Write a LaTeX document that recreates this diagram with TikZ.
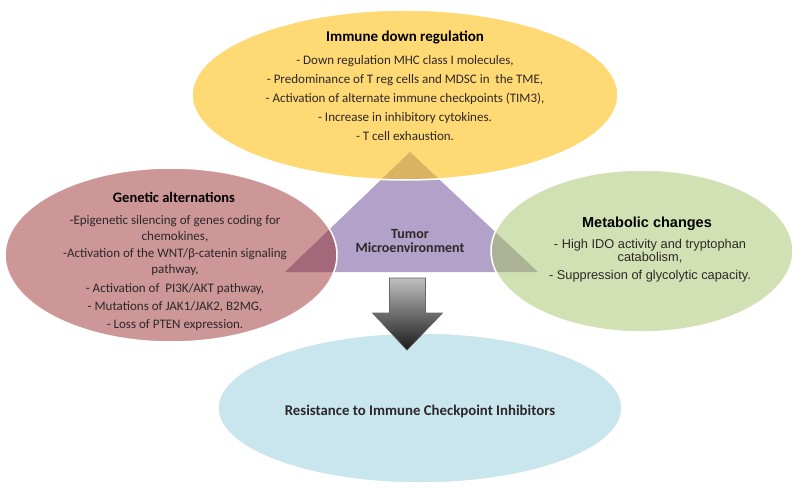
\documentclass[tikz,border=0pt]{standalone}
\usepackage{fontspec}
\setmainfont{Carlito}
\newfontfamily\arialfont{Liberation Sans}
\usepackage{xcolor}
\usepackage{tikz}
\usetikzlibrary{shapes.geometric,positioning,calc}

\definecolor{immfill}{RGB}{254,217,116}
\definecolor{genfill}{RGB}{205,151,152}
\definecolor{metfill}{RGB}{210,225,180}
\definecolor{resfill}{RGB}{201,229,237}
\definecolor{tmefill}{RGB}{178,161,200}
\definecolor{immdark}{RGB}{218,178,98}
\definecolor{gendark}{RGB}{163,104,121}
\definecolor{metdark}{RGB}{172,178,150}
\definecolor{inktext}{RGB}{45,40,40}

\begin{document}
\begin{tikzpicture}[
    x=1pt, y=-1pt,
    blob/.style={ellipse, draw=white, line width=1.5pt, inner sep=0pt},
    head/.style={align=center, text=black, font=\fontsize{15}{17}\selectfont\bfseries},
    body/.style={align=center, text=inktext, font=\fontsize{13}{19}\selectfont},
    bigarrow/.style={top color=black!25, bottom color=black!90, draw=black!60, line width=0.6pt}
]
    \useasboundingbox (0,0) rectangle (794,489);

    % Central triangle
    \coordinate (apex) at (410,152);
    \coordinate (baseL) at (285,272);
    \coordinate (baseR) at (538,272);
    \fill[tmefill] (apex) -- (baseR) -- (baseL) -- cycle;

    % Ellipses
    \node[blob, fill=immfill, minimum width=426pt, minimum height=170pt] (imm) at (405,95) {};
    \node[blob, fill=genfill, minimum width=332pt, minimum height=174pt] (gen) at (171,255) {};
    \node[blob, fill=metfill, minimum width=302pt, minimum height=162pt] (met) at (642,251) {};
    \node[blob, fill=resfill, minimum width=404pt, minimum height=150pt] (res) at (420,408) {};

    % Overlaps with the triangle
    \begin{scope}
        \clip (imm.center) ellipse [x radius=212, y radius=84];
        \fill[immdark] (apex) -- (baseR) -- (baseL) -- cycle;
    \end{scope}
    \begin{scope}
        \clip (gen.center) ellipse [x radius=165, y radius=86];
        \fill[gendark] (apex) -- (baseR) -- (baseL) -- cycle;
    \end{scope}
    \begin{scope}
        \clip (met.center) ellipse [x radius=150, y radius=80];
        \fill[metdark] (apex) -- (baseR) -- (baseL) -- cycle;
    \end{scope}

    % Immune down regulation
    \node[head] (immhead) at (405,37) {Immune down regulation};
    \node[body] (immtxt) at (405,98) {- Down regulation MHC class I molecules,\\
        - Predominance of T reg cells and MDSC in~ the TME,\\
        - Activation of alternate immune checkpoints (TIM3),\\
        - Increase in inhibitory cytokines.\\
        - T cell exhaustion.};

    % Genetic alternations
    \node[head, font=\fontsize{14.5}{17}\selectfont\bfseries] (genhead) at (174,197) {Genetic alternations};
    \node[body, font=\fontsize{13}{16}\selectfont] (gentxt) at (175,273) {-Epigenetic silencing of genes coding for\\ chemokines,\\[1pt]
        -Activation of the WNT/β-catenin signaling\\ pathway,\\[3pt]
        - Activation of~ PI3K/AKT pathway,\\[2pt]
        - Mutations of JAK1/JAK2, B2MG,\\[2pt]
        - Loss of PTEN expression.};

    % Metabolic changes
    \node[head, font=\arialfont\fontsize{14.5}{17}\selectfont\bfseries] (methead) at (647,224) {Metabolic changes};
    \node[body, font=\arialfont\fontsize{12.8}{13}\selectfont] (mettxt) at (650,261) {- High IDO activity and tryptophan\\ catabolism,\\[5pt]
        - Suppression of glycolytic capacity.};

    % Tumor microenvironment
    \node[head, text=inktext, font=\fontsize{14}{14.5}\selectfont\bfseries] (tme) at (410,241) {Tumor\\ Microenvironment};

    % Resistance
    \node[head, text=inktext, font=\fontsize{14.8}{17}\selectfont\bfseries] (restxt) at (420,411) {Resistance to Immune Checkpoint Inhibitors};

    % Block arrow
    \coordinate (atop) at ($(baseL)!0.5!(baseR)+(-4,6)$);
    \coordinate (atip) at ($(res.north)+(-13,18)$);
    \draw[bigarrow] ($(atop)+(-18,0)$) -- ($(atop)+(18,0)$) -- ($(atop)+(18,35)$) -- ($(atop)+(35,35)$)
        -- (atip) -- ($(atop)+(-35,35)$) -- ($(atop)+(-18,35)$) -- cycle;
\end{tikzpicture}
\end{document}
